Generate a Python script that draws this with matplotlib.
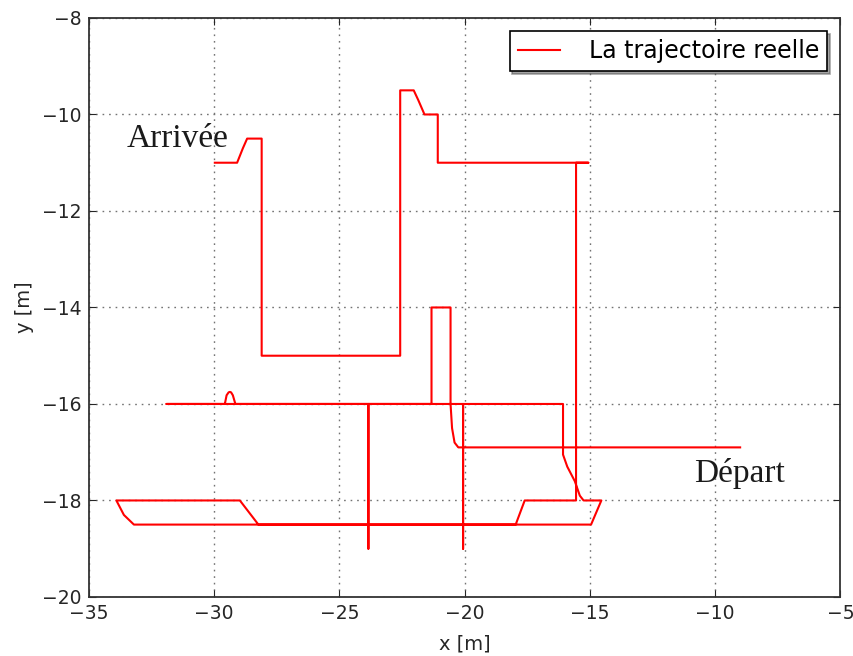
import matplotlib.pyplot as plt

# Trajectory vertices, from "Départ" to "Arrivée"
traj_x = [-9.0, -20.25, -20.4, -20.5, -20.56, -20.56, -21.32, -21.32,
          -29.15, -29.25, -29.32, -29.37, -29.42, -29.5, -29.57, -31.9,
          -23.84, -23.84, -23.84, -20.06, -20.06, -20.06, -16.07, -16.07,
          -15.9, -15.6, -15.4, -15.25, -14.54, -14.95, -33.2, -33.6, -33.9,
          -28.97, -28.23, -17.96, -17.6, -15.55, -15.55, -15.06, -21.07,
          -21.07, -21.6, -21.85, -22.03, -22.57, -22.57, -28.1, -28.1,
          -28.68, -28.85, -29.08, -29.97]
traj_y = [-16.9, -16.9, -16.8, -16.5, -16.0, -14.0, -14.0, -16.0,
          -16.0, -15.82, -15.76, -15.75, -15.76, -15.82, -16.0, -16.0,
          -16.0, -19.0, -16.0, -16.0, -19.0, -16.0, -16.0, -17.05,
          -17.3, -17.6, -17.9, -18.0, -18.0, -18.5, -18.5, -18.3, -18.0,
          -18.0, -18.5, -18.5, -18.0, -18.0, -11.0, -11.0, -11.0,
          -10.0, -10.0, -9.7, -9.5, -9.5, -15.0, -15.0, -10.5,
          -10.5, -10.7, -11.0, -11.0]

x_ticks = [-35, -30, -25, -20, -15, -10, -5]
y_ticks = [-20, -18, -16, -14, -12, -10, -8]

fig = plt.figure(figsize=(8.54, 6.56), dpi=100)
ax = fig.add_axes([0.104, 0.09, 0.880, 0.8826])

ax.plot(traj_x, traj_y, color='red', lw=1.5, label='La trajectoire reelle')

ax.set_xlim(-35, -5)
ax.set_ylim(-20, -8)
ax.set_xticks(x_ticks)
ax.set_yticks(y_ticks)
ax.tick_params(direction='in', top=True, right=True, labelsize=13.5, length=5, pad=5,
               colors='0.15')
ax.grid(True, linestyle=(0, (1.2, 3.5)), color='0.45', lw=1.0)
for sp in ax.spines.values():
    sp.set_linewidth(1.3)
    sp.set_color('0.2')

ax.set_xlabel('x [m]', fontsize=14, labelpad=8, color='0.15')
ax.set_ylabel('y [m]', fontsize=14, labelpad=6, color='0.15')

ax.text(-33.5, -10.67, 'Arrivée', family='Liberation Serif', fontsize=24, color='0.1')
ax.text(-10.84, -17.62, 'Départ', family='Liberation Serif', fontsize=24, color='0.1')

leg = ax.legend(loc='upper right', fontsize=17, shadow=True, fancybox=False,
                handlelength=1.8, handletextpad=1.2, borderpad=0.35,
                borderaxespad=0.55, framealpha=1)
leg.get_frame().set_edgecolor('black')
leg.get_frame().set_linewidth(1.2)

fig.savefig('out.png', dpi=100)
